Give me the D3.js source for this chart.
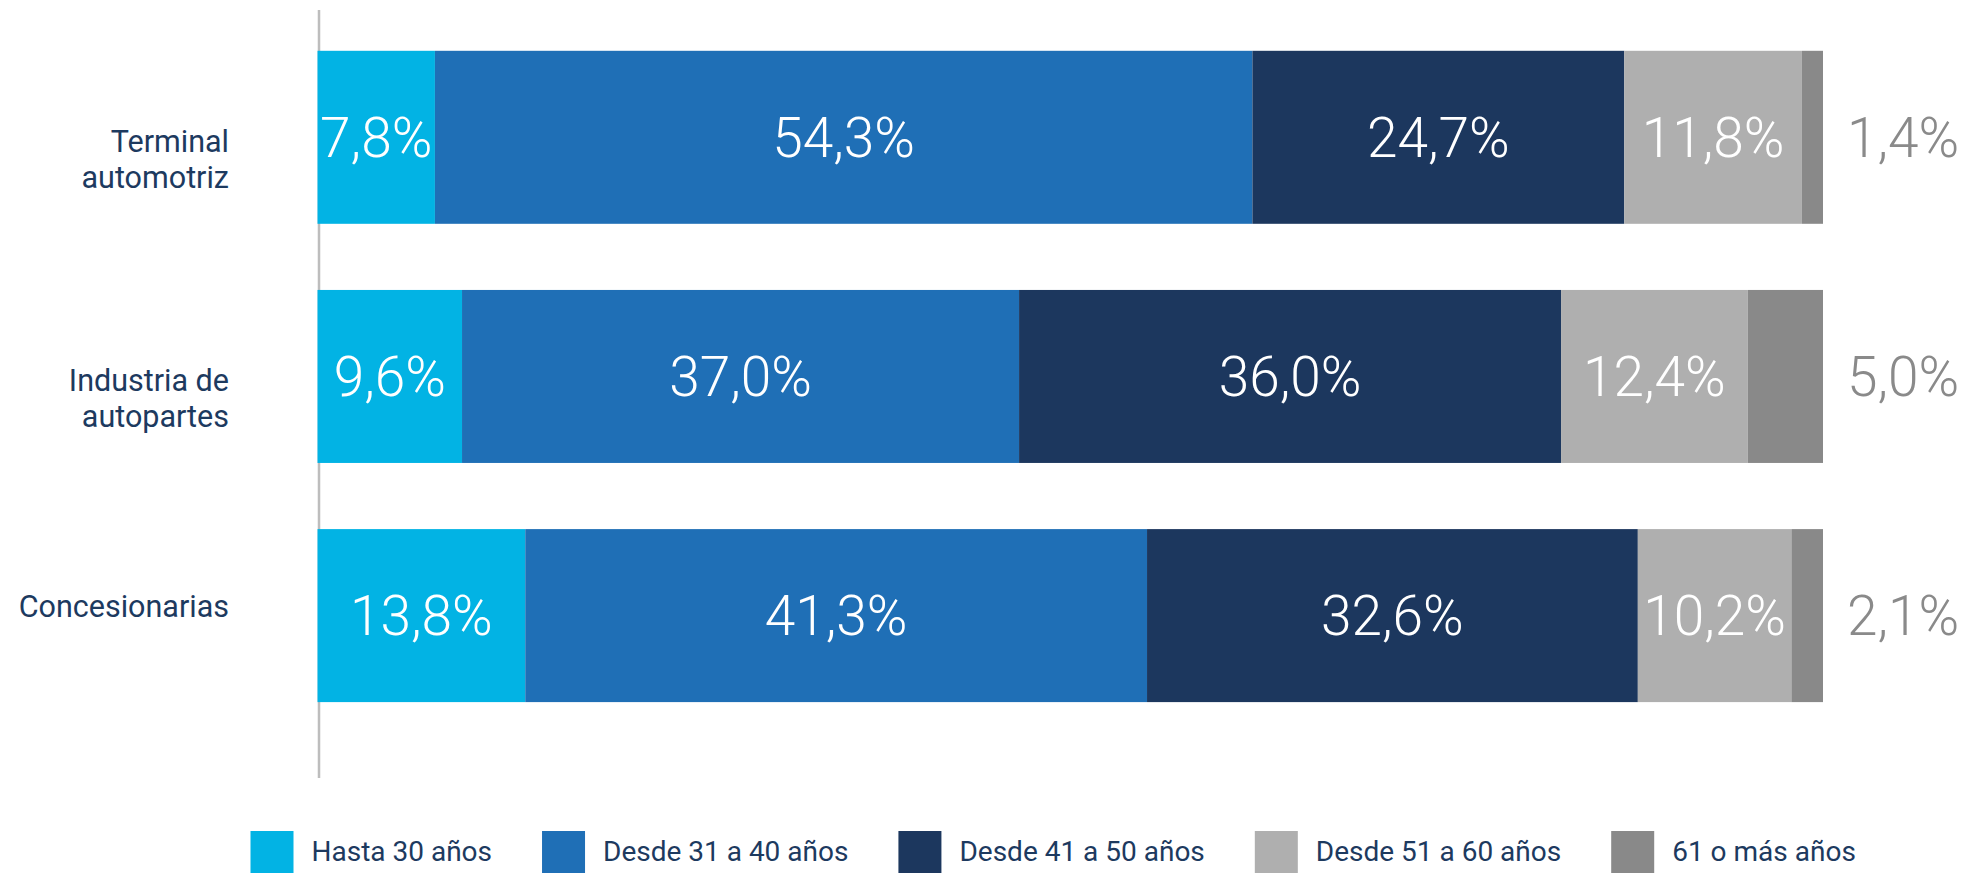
<!DOCTYPE html>
<html lang="es">
<head>
    <meta charset="UTF-8">
    <title>Edad por sector</title>
    <script src="https://cdn.jsdelivr.net/npm/d3@7"></script>
    <style>
        body {
          margin: 0;
          background: #fff;
        }
        text {
          font-family: Roboto, "Noto Sans", sans-serif;
        }
    </style>
</head>
<body>
    <script>
        // data
        let categories = ['Terminal automotriz', 'Industria de autopartes', 'Concesionarias'];
        let categoryLines = [['Terminal', 'automotriz'], ['Industria de', 'autopartes'], ['Concesionarias']];
        let series = ['Hasta 30 años', 'Desde 31 a 40 años', 'Desde 41 a 50 años', 'Desde 51 a 60 años', '61 o más años'];
        let hasta30 = [7.8, 9.6, 13.8];
        let desde31 = [54.3, 37.0, 41.3];
        let desde41 = [24.7, 36.0, 32.6];
        let desde51 = [11.8, 12.4, 10.2];
        let mas61 = [1.4, 5.0, 2.1];
        let colors = ['#02b3e4', '#1f6fb6', '#1c375e', '#afafaf', '#898989'];

        let w = 1984;
        let h = 873;

        let rows = categories.map((c, i) => ({
            cat: c,
            'Hasta 30 años': hasta30[i],
            'Desde 31 a 40 años': desde31[i],
            'Desde 41 a 50 años': desde41[i],
            'Desde 51 a 60 años': desde51[i],
            '61 o más años': mas61[i]
        }));

        let stack = d3.stack().keys(series)(rows);

        let svg = d3.select('body')
                    .append('svg')
                    .attr('width', w)
                    .attr('height', h);

        let x = d3.scaleLinear().domain([0, 100]).range([317.5, 1823]);
        let y = d3.scaleBand().domain(categories).range([50.8, 702.1])
                  .paddingInner(0.2766).paddingOuter(0);
        let color = d3.scaleOrdinal().domain(series).range(colors);

        // vertical base line
        svg.append('line')
           .attr('x1', x(0) + 1.5).attr('x2', x(0) + 1.5)
           .attr('y1', 10).attr('y2', 778)
           .attr('stroke', '#bdbdbd')
           .attr('stroke-width', 2.5);

        let groups = svg.selectAll('g.serie')
                        .data(stack)
                        .enter()
                        .append('g')
                        .attr('class', 'serie')
                        .attr('fill', d => color(d.key));

        groups.selectAll('rect')
              .data(d => d)
              .enter()
              .append('rect')
              .attr('x', d => x(d[0]))
              .attr('y', d => y(d.data.cat))
              .attr('width', d => x(d[1]) - x(d[0]))
              .attr('height', y.bandwidth());

        let fmt = v => d3.format('.1f')(v).replace('.', ',') + '%';

        // value labels
        stack.forEach((s, si) => {
            let last = si === stack.length - 1;
            svg.append('g').selectAll('text')
               .data(s)
               .enter()
               .append('text')
               .attr('x', d => last ? x(d[1]) + 24 : (x(d[0]) + x(d[1])) / 2)
               .attr('y', d => y(d.data.cat) + y.bandwidth() / 2)
               .attr('dy', '0.35em')
               .attr('text-anchor', last ? 'start' : 'middle')
               .attr('fill', last ? '#8a8a8a' : '#fff')
               .attr('font-size', 55)
               .attr('font-weight', 300)
               .text(d => fmt(d[1] - d[0]));
        });

        // category axis
        let axis = svg.append('g')
                      .attr('transform', 'translate(' + x(0) + ',0)')
                      .call(d3.axisLeft(y).tickSize(0).tickPadding(88.5));
        axis.select('.domain').remove();
        axis.selectAll('.tick text').each(function(d, i) {
            let t = d3.select(this);
            let lines = categoryLines[i];
            t.text(null)
             .attr('font-size', 30.5)
             .attr('font-family', 'Roboto, sans-serif')
             .attr('fill', '#1d3a5f')
             .attr('dy', null)
             .attr('y', lines.length > 1 ? 15 : 1);
            lines.forEach((l, k) => {
                t.append('tspan')
                 .attr('x', -88.5)
                 .attr('dy', k === 0 ? 0 : 35.5)
                 .text(l);
            });
        });

        // legend
        let legend = svg.append('g').attr('class', 'legend');
        let lx = 250.5;
        series.forEach((s, i) => {
            let g = legend.append('g').attr('transform', 'translate(' + lx + ',831)');
            g.append('rect')
             .attr('width', 43)
             .attr('height', 43)
             .attr('fill', color(s));
            let t = g.append('text')
             .attr('x', 61)
             .attr('y', 30)
             .attr('font-size', 28)
             .attr('fill', '#1d3a5f')
             .text(s);
            lx += 61 + t.node().getComputedTextLength() + 50;
        });
    </script>
</body>
</html>
